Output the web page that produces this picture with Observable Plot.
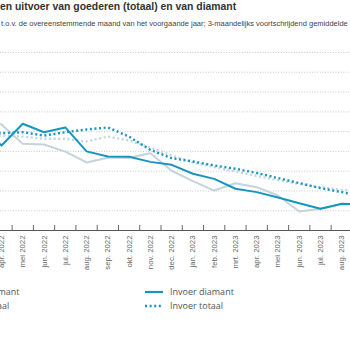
<!DOCTYPE html>
<html>
<head>
<meta charset="utf-8">
<script src="https://cdn.jsdelivr.net/npm/d3@7"></script>
<script src="https://cdn.jsdelivr.net/npm/@observablehq/plot@0.6"></script>
<style>
  html, body { margin: 0; padding: 0; background: #fff; overflow: hidden; }
  #page { position: relative; width: 350px; height: 350px; overflow: hidden; font-family: "Liberation Sans", Arial, sans-serif; }
  #title { position: absolute; left: 0; top: 0; line-height: 14px; font-size: 10.4px; font-weight: bold; color: #333; white-space: nowrap; }
  #subtitle { position: absolute; left: 1px; top: 18px; line-height: 12px; font-size: 7.5px; color: #444; white-space: nowrap; }
  #chart { position: absolute; left: 0; top: 30px; }
  .leg { position: absolute; font-family: "Open Sans", sans-serif; font-size: 9px; color: #555; white-space: nowrap; line-height: 12px; display: flex; align-items: center; }
  .leg svg { margin-right: 7px; }
</style>
</head>
<body>
<div id="page">
  <div id="title">en uitvoer van goederen (totaal) en van diamant</div>
  <div id="subtitle">t.o.v. de overeenstemmende maand van het voorgaande jaar; 3-maandelijks voortschrijdend gemiddelde</div>
  <div id="chart"></div>
  <div id="legend"></div>
</div>
<script>
// Months (first and last only partly visible in the cropped view)
const months = ["mrt. 2022","apr. 2022","mei 2022","jun. 2022","jul. 2022","aug. 2022","sep. 2022","okt. 2022","nov. 2022","dec. 2022","jan. 2023","feb. 2023","mrt. 2023","apr. 2023","mei 2023","jun. 2023","jul. 2023","aug. 2023","sep. 2023"];
const invoerDiamant = [12.6, 3.0, 14.0, 9.7, 12.1, 0.0, -2.6, -2.7, -5.3, -6.8, -11.3, -13.9, -18.9, -20.6, -23.3, -26.2, -29.0, -26.5, -26.8];
const uitvoerDiamant = [16.6, 13.6, 3.8, 3.5, -0.1, -5.6, -3.2, -3.2, -0.9, -9.8, -15.0, -19.8, -16.1, -18.1, -22.3, -30.4, -29.0, -26.8, -26.8];
const invoerTotaal = [9.0, 9.2, 9.7, 8.0, 9.7, 11.1, 12.1, 7.5, 0.7, -3.4, -5.1, -7.1, -8.8, -10.9, -13.5, -16.0, -18.6, -20.6, -22.8];
const uitvoerTotaal = [8.5, 8.0, 7.5, 6.4, 6.4, 5.0, 7.5, 5.5, 2.0, -2.1, -5.6, -7.9, -10.2, -12.4, -14.5, -16.5, -18.1, -19.5, -20.0];
const gridValues = [-30, -20, -10, 0, 10, 20, 30, 40, 50];
const seriesNames = ["Uitvoer diamant", "Uitvoer totaal", "Invoer diamant", "Invoer totaal"];

const dark = "#1796bd";
const light = "#c4d3dc";
const dots = "2,2.6";

const rows = months.map((m, k) => ({
  i: k - 1, month: m,
  invoerDiamant: invoerDiamant[k], uitvoerDiamant: uitvoerDiamant[k],
  invoerTotaal: invoerTotaal[k], uitvoerTotaal: uitvoerTotaal[k]
}));
const labelIdx = rows.slice(1, -1).map(d => d.i);
const boundaries = rows.map(d => d.i + 0.5);

const plot = Plot.plot({
  width: 350, height: 245,
  marginTop: 22, marginBottom: 45, marginLeft: 0, marginRight: 0,
  x: {domain: [-0.047, 16.41]},
  y: {domain: [-40, 50], axis: null},
  style: {fontFamily: "'Liberation Sans', Arial, sans-serif", background: "transparent"},
  marks: [
    Plot.gridY(gridValues, {stroke: "#bbb", strokeOpacity: 1, strokeDasharray: "1,1.6", strokeWidth: 0.8}),
    Plot.line(rows, {x: "i", y: "uitvoerTotaal", stroke: light, strokeWidth: 2.3, strokeDasharray: dots, strokeLinecap: "butt", strokeLinejoin: "miter", clip: true}),
    Plot.line(rows, {x: "i", y: "uitvoerDiamant", stroke: light, strokeWidth: 2, clip: true}),
    Plot.line(rows, {x: "i", y: "invoerTotaal", stroke: dark, strokeWidth: 2.4, strokeDasharray: dots, strokeLinecap: "butt", strokeLinejoin: "miter", clip: true}),
    Plot.line(rows, {x: "i", y: "invoerDiamant", stroke: dark, strokeWidth: 2, clip: true}),
    Plot.ruleY([-40], {stroke: "#555", strokeWidth: 1}),
    Plot.axisX(boundaries, {tickSize: 5, dy: -5, tickFormat: () => "", stroke: "#666", label: null}),
    Plot.axisX(labelIdx, {tickSize: 0, tickPadding: 5, tickRotate: -90, tickFormat: i => months[i + 1], fontSize: 7.8, fill: "#666", label: null})
  ]
});
document.getElementById("chart").appendChild(plot);

// Legend
function swatch(color, dotted) {
  const s = d3.create("svg").attr("width", 18).attr("height", 4);
  s.append("line").attr("x1", 0).attr("x2", 18).attr("y1", 2).attr("y2", 2)
    .attr("stroke", color).attr("stroke-width", dotted ? 2.4 : 2.2)
    .attr("stroke-dasharray", dotted ? dots : null);
  return s.node();
}
const legend = document.getElementById("legend");
const items = [
  {name: seriesNames[0], color: light, dotted: false, right: 350 - 19.5, top: 286},
  {name: seriesNames[1], color: light, dotted: true, right: 350 - 9.3, top: 300},
  {name: seriesNames[2], color: dark, dotted: false, left: 145, top: 286},
  {name: seriesNames[3], color: dark, dotted: true, left: 145, top: 300}
];
for (const it of items) {
  const div = document.createElement("div");
  div.className = "leg";
  div.style.top = it.top + "px";
  if (it.left != null) div.style.left = it.left + "px";
  else div.style.right = it.right + "px";
  div.appendChild(swatch(it.color, it.dotted));
  const t = document.createElement("span");
  t.textContent = it.name;
  div.appendChild(t);
  legend.appendChild(div);
}
</script>
</body>
</html>
